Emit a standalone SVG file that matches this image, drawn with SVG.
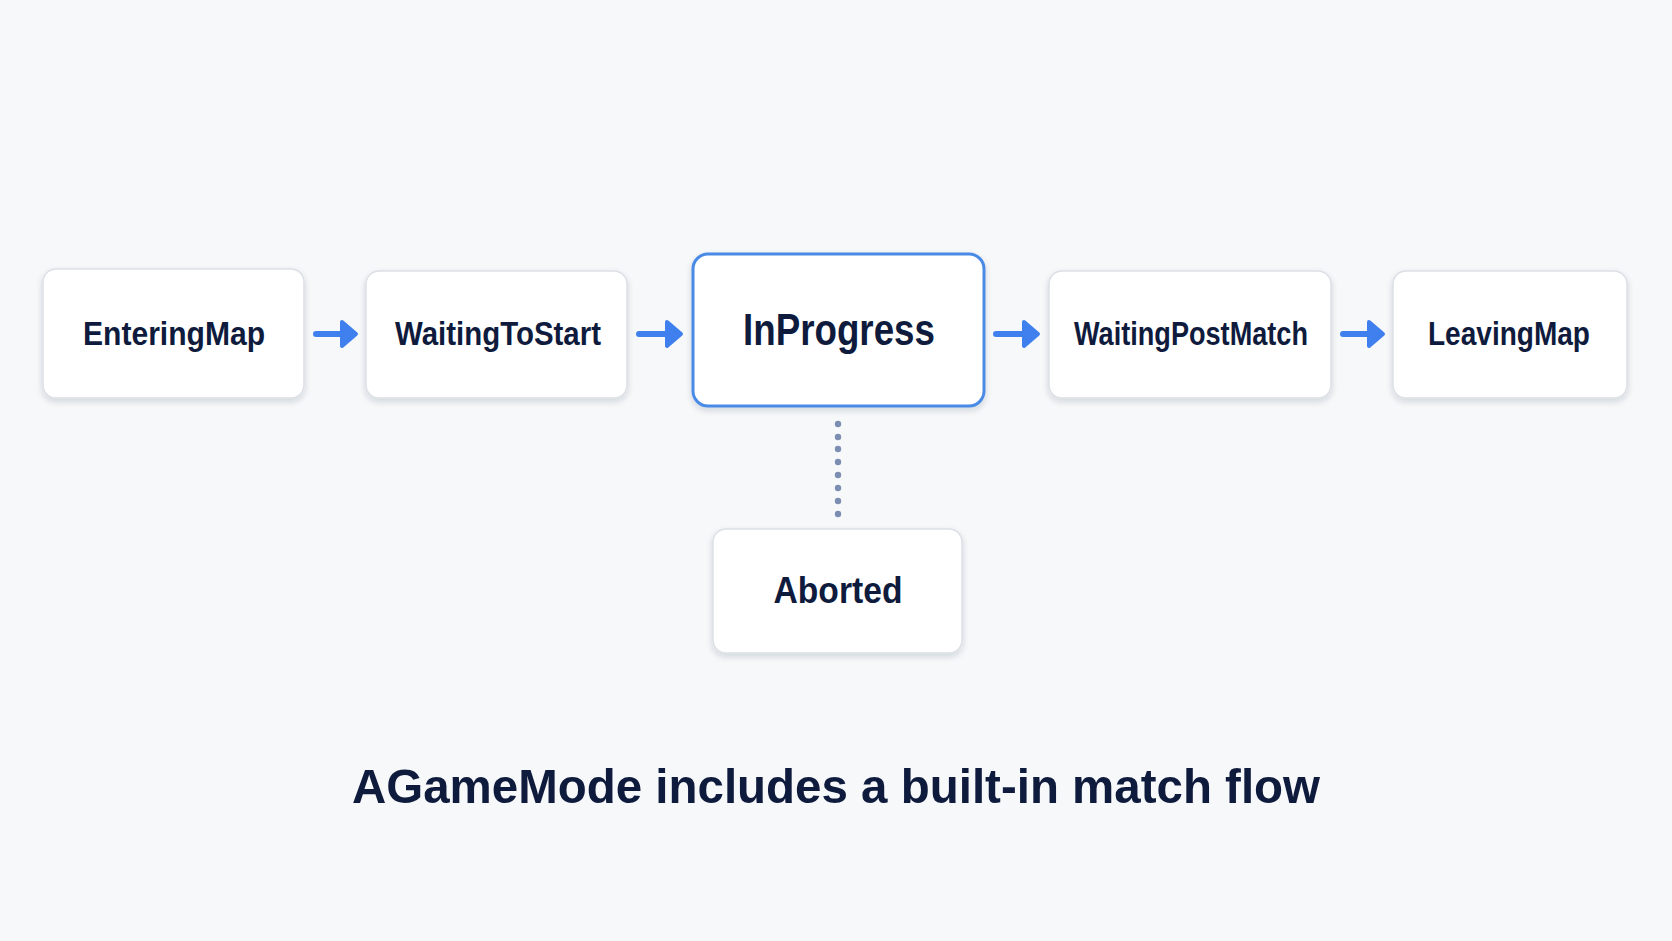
<svg xmlns="http://www.w3.org/2000/svg" width="1672" height="941" viewBox="0 0 1672 941">
<defs>
<filter id="sh" x="-10%" y="-10%" width="120%" height="130%">
<feDropShadow dx="0" dy="3" stdDeviation="3" flood-color="#1a2540" flood-opacity="0.16"/>
</filter>
<style>
.box{fill:#ffffff;stroke:#dcdfe5;stroke-width:1.5;filter:url(#sh)}
.hl{fill:#ffffff;stroke:#4a8ae6;stroke-width:3;filter:url(#sh)}
.lbl{font-family:"Liberation Sans",Arial,sans-serif;font-weight:bold;fill:#0f1b3d;text-anchor:middle}
.ln{stroke:#3f80ee;stroke-width:6;stroke-linecap:round;fill:none}
.hd{fill:#3f80ee;stroke:#3f80ee;stroke-width:4;stroke-linejoin:round}
.dot{fill:#7c8fb3}
</style>
</defs>
<rect width="1672" height="941" fill="#f7f8fa"/>
<g id="connectors">
<line class="ln" x1="316" y1="334" x2="345" y2="334"/><polygon class="hd" points="342,322 356,334 342,346"/>
<line class="ln" x1="639" y1="334" x2="670" y2="334"/><polygon class="hd" points="667,322 681,334 667,346"/>
<line class="ln" x1="996" y1="334" x2="1027" y2="334"/><polygon class="hd" points="1024,322 1038,334 1024,346"/>
<line class="ln" x1="1343" y1="334" x2="1372" y2="334"/><polygon class="hd" points="1369,322 1383,334 1369,346"/>
<g id="dotted">
<circle class="dot" cx="838" cy="424" r="3.2"/><circle class="dot" cx="838" cy="437" r="3.2"/><circle class="dot" cx="838" cy="449" r="3.2"/><circle class="dot" cx="838" cy="462" r="3.2"/><circle class="dot" cx="838" cy="475" r="3.2"/><circle class="dot" cx="838" cy="488" r="3.2"/><circle class="dot" cx="838" cy="501" r="3.2"/><circle class="dot" cx="838" cy="514" r="3.2"/>
</g>
</g>
<g id="n-enteringmap"><rect class="box" x="43" y="269" width="261" height="129" rx="13"/><text class="lbl" x="174" y="345" font-size="33" textLength="182" lengthAdjust="spacingAndGlyphs">EnteringMap</text></g>
<g id="n-waitingtostart"><rect class="box" x="366" y="271" width="261" height="127" rx="13"/><text class="lbl" x="498" y="345" font-size="33" textLength="206" lengthAdjust="spacingAndGlyphs">WaitingToStart</text></g>
<g id="n-inprogress"><rect class="hl" x="693" y="254" width="291" height="152" rx="15"/><text class="lbl" x="839" y="345" font-size="44" textLength="192" lengthAdjust="spacingAndGlyphs">InProgress</text></g>
<g id="n-waitingpostmatch"><rect class="box" x="1049" y="271" width="282" height="127" rx="13"/><text class="lbl" x="1191" y="345" font-size="33" textLength="234" lengthAdjust="spacingAndGlyphs">WaitingPostMatch</text></g>
<g id="n-leavingmap"><rect class="box" x="1393" y="271" width="234" height="127" rx="13"/><text class="lbl" x="1509" y="345" font-size="33" textLength="162" lengthAdjust="spacingAndGlyphs">LeavingMap</text></g>
<g id="n-aborted"><rect class="box" x="713" y="529" width="249" height="124" rx="13"/><text class="lbl" x="838" y="603" font-size="37" textLength="129" lengthAdjust="spacingAndGlyphs">Aborted</text></g>
<text class="lbl" x="836" y="803" font-size="49" textLength="968" lengthAdjust="spacingAndGlyphs">AGameMode includes a built-in match flow</text>
</svg>
